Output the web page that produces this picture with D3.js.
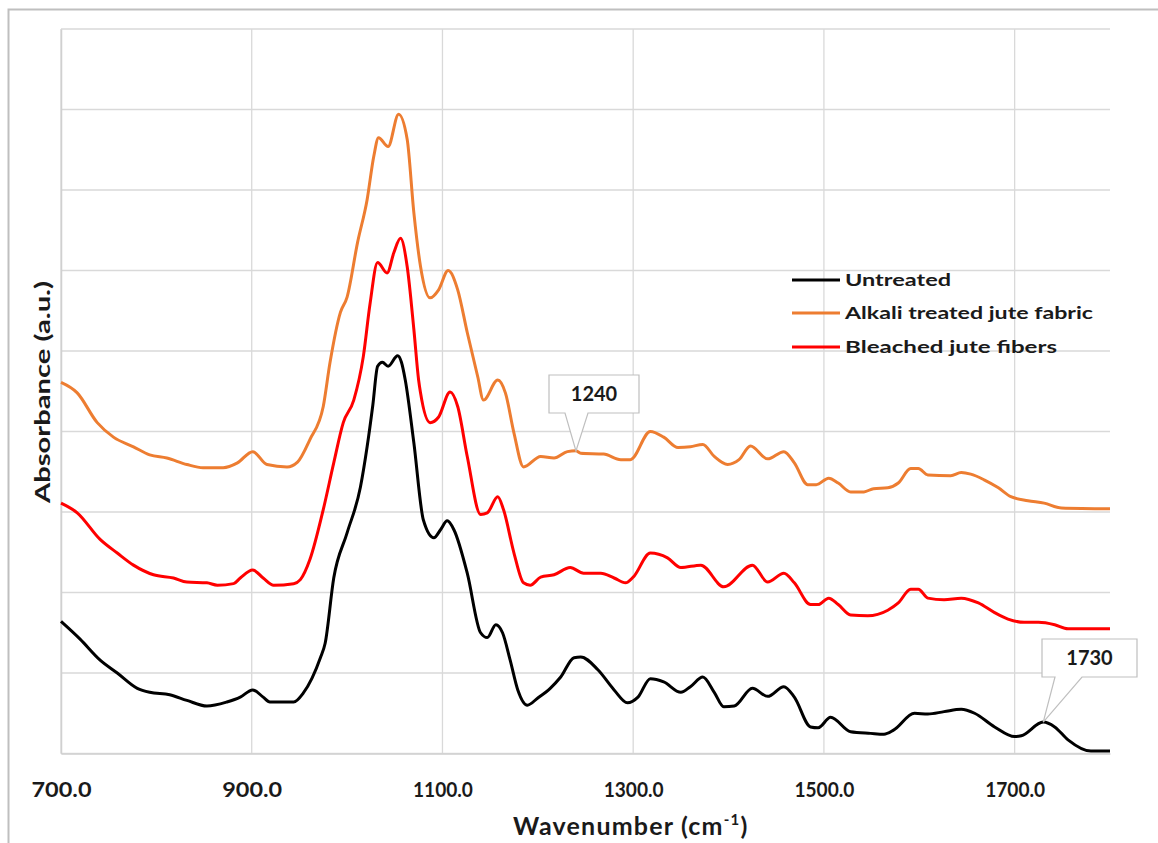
<!DOCTYPE html>
<html>
<head>
<meta charset="utf-8">
<script src="https://cdn.jsdelivr.net/npm/d3@7"></script>
<style>
  html, body { margin: 0; padding: 0; background: #fff; }
  svg { display: block; }
  text { font-family: Lato, "Open Sans", "DejaVu Sans", sans-serif; font-weight: bold; fill: #1a1a1a; }
</style>
</head>
<body>
<svg id="chart" width="1158" height="843"></svg>
<script>
// FTIR spectra, absorbance in arbitrary units (stacked traces)
const wavenumbers_untreated = [700,720,741,759,780,793,814,832,853,874,888,901,912,919,944,954,972,977,986,1000,1014,1021,1027,1032,1037,1043,1053,1057,1061,1070,1080,1091,1098,1105,1112,1126,1140,1147,1156,1163,1171,1179,1189,1200,1213,1224,1238,1245,1263,1280,1294,1305,1318,1332,1350,1360,1373,1385,1395,1406,1425,1441,1458,1469,1486,1494,1507,1528,1549,1563,1573,1595,1609,1626,1644,1658,1679,1700,1707,1730,1742,1756,1780,1800];
const untreated = [16.4,14.2,11.6,10.0,8.1,7.6,7.3,6.6,5.9,6.4,7.0,7.9,7.0,6.4,6.4,7.5,11.9,13.7,21.8,27.4,33.1,38.1,43.3,48.1,48.6,48.1,49.4,48.6,46.4,38.6,29.0,26.8,27.8,28.9,27.8,22.4,15.0,14.4,16.0,15.0,11.6,7.9,6.0,6.9,8.1,9.5,11.9,12.0,10.4,7.9,6.3,7.0,9.3,8.9,7.6,8.3,9.5,7.6,5.8,5.9,8.1,7.1,8.3,7.0,3.3,3.2,4.5,2.7,2.5,2.4,2.9,5.0,4.9,5.2,5.5,5.0,3.3,2.1,2.2,3.9,3.3,1.7,0.3,0.3];

const wavenumbers_alkali = [700,717,738,755,776,793,811,832,849,870,885,901,916,937,948,961,975,982,993,1000,1011,1021,1028,1033,1043,1054,1063,1070,1077,1087,1096,1106,1116,1126,1137,1143,1158,1166,1175,1185,1203,1217,1231,1240,1245,1269,1287,1297,1318,1332,1347,1360,1373,1385,1399,1411,1423,1441,1458,1469,1483,1492,1505,1515,1528,1542,1552,1567,1578,1591,1599,1609,1633,1644,1654,1668,1683,1696,1714,1731,1749,1800];
const alkali = [46.1,44.8,41.1,39.3,38.1,37.1,36.7,35.9,35.5,35.5,36.1,37.5,35.9,35.6,36.2,39.0,43.1,48.5,54.8,56.7,63.5,68.8,74.2,76.5,75.4,79.4,76.3,67.2,60.5,56.6,57.6,60.0,57.6,52.3,46.8,43.9,46.4,44.8,39.8,35.6,36.9,36.7,37.5,37.6,37.3,37.2,36.5,36.5,40.0,39.3,38.0,38.1,38.4,36.9,35.9,36.5,38.2,36.6,37.5,36.1,33.4,33.4,34.2,33.6,32.5,32.5,32.9,33.0,33.6,35.4,35.4,34.6,34.5,34.9,34.7,34.0,33.0,31.9,31.4,31.1,30.5,30.4];

const wavenumbers_bleached = [700,717,741,759,776,797,818,832,853,864,881,888,901,912,923,944,951,961,975,986,996,1007,1017,1024,1032,1042,1049,1056,1063,1070,1075,1077,1087,1096,1108,1116,1126,1140,1147,1158,1164,1175,1185,1192,1203,1217,1234,1248,1266,1280,1292,1300,1318,1336,1350,1371,1395,1425,1441,1458,1469,1486,1494,1505,1515,1528,1546,1567,1578,1591,1599,1609,1626,1644,1662,1679,1693,1710,1725,1742,1756,1800];
const bleached = [31.1,29.9,26.6,24.9,23.4,22.2,21.8,21.3,21.2,20.9,21.1,21.8,22.8,21.8,20.9,21.1,21.6,24.1,30.3,36.1,41.1,43.9,49.3,55.8,61.0,59.7,62.2,64.0,60.5,52.7,46.4,44.8,41.1,41.8,44.9,43.1,36.9,29.7,29.9,31.9,30.3,24.9,21.2,20.9,21.9,22.2,23.1,22.4,22.4,21.8,21.2,21.9,24.9,24.3,23.1,23.4,20.7,23.4,21.3,22.4,21.2,18.5,18.5,19.3,18.5,17.2,17.1,17.8,18.7,20.4,20.4,19.3,19.1,19.3,18.7,17.5,16.7,16.3,16.3,16.0,15.5,15.5];

const seriesNames = ["Untreated", "Alkali treated jute fabric", "Bleached jute fibers"];
const seriesColors = ["#000000", "#ED7D31", "#FF0000"];
const xTicks = [700, 900, 1100, 1300, 1500, 1700];
const yGridValues = [0, 10, 20, 30, 40, 50, 60, 70, 80, 90];

// peak callouts: wavenumber label attached to a trace
const calloutLabels = ["1240", "1730"];
const calloutSeries = [1, 0];

const svg = d3.select("#chart");
const W = 1158, H = 843;
const m = { left: 61, right: 1110, top: 29, bottom: 753.5 };

const x = d3.scaleLinear().domain([700, 1800]).range([m.left, m.right]);
const y = d3.scaleLinear().domain([0, 90]).range([m.bottom, m.top]);

// chart frame
svg.append("rect")
  .attr("x", 8.5).attr("y", 9.5)
  .attr("width", W + 20).attr("height", H + 20)
  .attr("fill", "#fff").attr("stroke", "#bfbfbf").attr("stroke-width", 2);

// gridlines
const grid = svg.append("g");
grid.selectAll("line.h").data(yGridValues).join("line")
  .attr("x1", m.left).attr("x2", m.right)
  .attr("y1", d => y(d)).attr("y2", d => y(d))
  .attr("stroke", "#d9d9d9").attr("stroke-width", 1.3);
grid.selectAll("line.v").data(xTicks).join("line")
  .attr("x1", d => x(d)).attr("x2", d => x(d))
  .attr("y1", m.top).attr("y2", m.bottom)
  .attr("stroke", "#d9d9d9").attr("stroke-width", 1.3);

// x axis
const xAxis = d3.axisBottom(x).tickValues(xTicks).tickSize(0).tickPadding(29)
  .tickFormat(d3.format(".1f"));
const gx = svg.append("g").attr("transform", `translate(0,${m.bottom})`).call(xAxis);
gx.select(".domain").attr("stroke", "#d0d0d0").attr("stroke-width", 1.5);
gx.selectAll("text")
  .style("font-family", "Lato, 'Open Sans', sans-serif")
  .style("font-weight", "bold").style("font-size", "20px")
  .attr("fill", "#1a1a1a").attr("dy", "0.71em")
  .attr("textLength", 60).attr("lengthAdjust", "spacingAndGlyphs");

// y axis (no tick labels)
const yAxis = d3.axisLeft(y).tickValues([]).tickSize(0);
const gy = svg.append("g").attr("transform", `translate(${m.left},0)`).call(yAxis);
gy.select(".domain").attr("stroke", "#d0d0d0").attr("stroke-width", 1.5);

// axis titles
const xt = svg.append("text").attr("x", 513).attr("y", 835)
  .style("font-size", "25px").style("letter-spacing", "1.2px");
xt.append("tspan").text("Wavenumber (cm");
xt.append("tspan").text("-1").attr("dy", -10).style("font-size", "15px");
xt.append("tspan").text(")").attr("dy", 10);

svg.append("text")
  .attr("transform", "translate(50,392) rotate(-90)")
  .attr("text-anchor", "middle")
  .style("font-size", "21px")
  .attr("textLength", 222).attr("lengthAdjust", "spacingAndGlyphs")
  .text("Absorbance (a.u.)");

// traces
const allX = [wavenumbers_untreated, wavenumbers_alkali, wavenumbers_bleached];
const allY = [untreated, alkali, bleached];
const line = d3.line().x(d => x(d[0])).y(d => y(d[1])).curve(d3.curveMonotoneX);
const drawOrder = [1, 2, 0];
drawOrder.forEach(i => {
  const pts = allX[i].map((w, k) => [w, allY[i][k]]);
  svg.append("path").datum(pts)
    .attr("d", line)
    .attr("fill", "none")
    .attr("stroke", seriesColors[i])
    .attr("stroke-width", 3)
    .attr("stroke-linejoin", "round");
});

// legend
const legend = svg.append("g");
const legY = [280, 313, 347];
const legLen = [106, 248, 212];
seriesNames.forEach((name, i) => {
  legend.append("line")
    .attr("x1", 792).attr("x2", 840)
    .attr("y1", legY[i]).attr("y2", legY[i])
    .attr("stroke", seriesColors[i]).attr("stroke-width", 3);
  legend.append("text")
    .attr("x", 845).attr("y", legY[i]).attr("dy", "0.35em")
    .style("font-size", "17px")
    .attr("textLength", legLen[i]).attr("lengthAdjust", "spacingAndGlyphs")
    .text(name);
});

// callouts
const boxes = [
  { bx: 549, by: 375, bw: 90, bh: 38, p1: 565, p2: 588 },
  { bx: 1042, by: 639, bw: 95, bh: 38, p1: 1055, p2: 1082 }
];
calloutLabels.forEach((lab, i) => {
  const s = calloutSeries[i];
  const w = +lab;
  const k = allX[s].indexOf(w);
  const tx = x(w), ty = y(allY[s][k]);
  const b = boxes[i];
  const g = svg.append("g");
  g.append("path")
    .attr("d", `M${b.bx},${b.by} H${b.bx + b.bw} V${b.by + b.bh} H${b.p2} L${tx},${ty} L${b.p1},${b.by + b.bh} H${b.bx} Z`)
    .attr("fill", "#fff").attr("stroke", "#bfbfbf").attr("stroke-width", 1.2);
  g.append("text")
    .attr("x", b.bx + b.bw / 2).attr("y", b.by + b.bh / 2).attr("dy", "0.36em")
    .attr("text-anchor", "middle")
    .style("font-size", "20px")
    .text(lab);
});
</script>
</body>
</html>
